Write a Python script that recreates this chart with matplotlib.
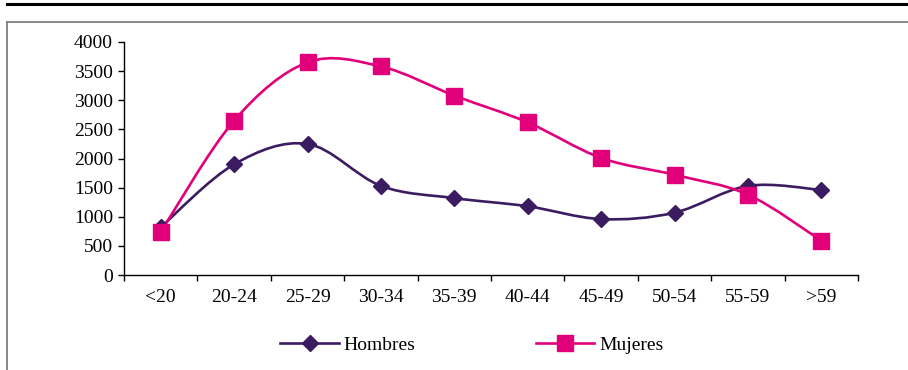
import numpy as np
import matplotlib.pyplot as plt
from matplotlib.path import Path
from matplotlib.patches import PathPatch
from matplotlib.lines import Line2D

plt.rcParams['font.family'] = ['Liberation Serif', 'DejaVu Serif']

grupos = ["<20", "20-24", "25-29", "30-34", "35-39", "40-44", "45-49", "50-54", "55-59", ">59"]
hombres = [820, 1900, 2250, 1530, 1320, 1180, 960, 1070, 1530, 1460]
mujeres = [740, 2650, 3650, 3580, 3080, 2620, 2010, 1720, 1380, 590]

col_h = "#3b1c61"
col_m = "#e2007a"


def smooth_path(x, y):
    # excel-style smoothed line: cubic bezier segments through each point
    pts = np.column_stack([x, y]).astype(float)
    n = len(pts)
    verts = [pts[0]]
    codes = [Path.MOVETO]
    for i in range(n - 1):
        p0 = pts[max(i - 1, 0)]
        p1 = pts[i]
        p2 = pts[i + 1]
        p3 = pts[min(i + 2, n - 1)]
        c1 = p1 + (p2 - p0) / 6.0
        c2 = p2 - (p3 - p1) / 6.0
        verts += [c1, c2, p2]
        codes += [Path.CURVE4] * 3
    return Path(verts, codes)


fig = plt.figure(figsize=(9.08, 3.70), dpi=100)
W, H = 908, 370
ax = fig.add_axes([124 / W, 1 - 275 / H, (858 - 124) / W, (275 - 42) / H])

xpos = np.arange(len(grupos))
for vals, col, mk, ms in [(hombres, col_h, "D", 8.4), (mujeres, col_m, "s", 11.5)]:
    ax.add_patch(PathPatch(smooth_path(xpos, vals), facecolor="none",
                           edgecolor=col, lw=1.9, zorder=2))
    ax.plot(xpos, vals, linestyle="none", marker=mk, ms=ms, color=col,
            mec=col, zorder=3)

ax.set_xlim(-0.5, len(grupos) - 0.5)
ax.set_ylim(0, 4000)
ax.set_yticks(range(0, 4001, 500))
ax.set_xticks(xpos)
ax.set_xticklabels(grupos)
ax.set_xticks(np.arange(-0.5, len(grupos)), minor=True)
ax.tick_params(axis="x", which="major", length=0, pad=10, labelsize=14)
ax.tick_params(axis="x", which="minor", length=4, width=1, direction="out")
ax.tick_params(axis="y", length=4, width=1, direction="out", pad=4, labelsize=14)
for s in ["top", "right"]:
    ax.spines[s].set_visible(False)
for s in ["left", "bottom"]:
    ax.spines[s].set_linewidth(1)

handles = [Line2D([], [], color=col_h, lw=1.9, marker="D", ms=8.4),
           Line2D([], [], color=col_m, lw=1.9, marker="s", ms=11.5)]
fig.legend(handles, ["Hombres", "Mujeres"], loc="center",
           bbox_to_anchor=(472 / W, 1 - 345 / H), ncol=2, frameon=False,
           fontsize=14, handlelength=3.0, handletextpad=0.25, columnspacing=6.2)

# page rule and chart frame
fig.add_artist(Line2D([7 / W, 1], [1 - 4 / H, 1 - 4 / H], color="black", lw=2.2))
fig.add_artist(Line2D([7 / W, 1], [1 - 22 / H, 1 - 22 / H], color="#808080", lw=1.3))
fig.add_artist(Line2D([7 / W, 7 / W], [0, 1 - 22 / H], color="#808080", lw=1.3))

fig.savefig("out.png", dpi=100)
